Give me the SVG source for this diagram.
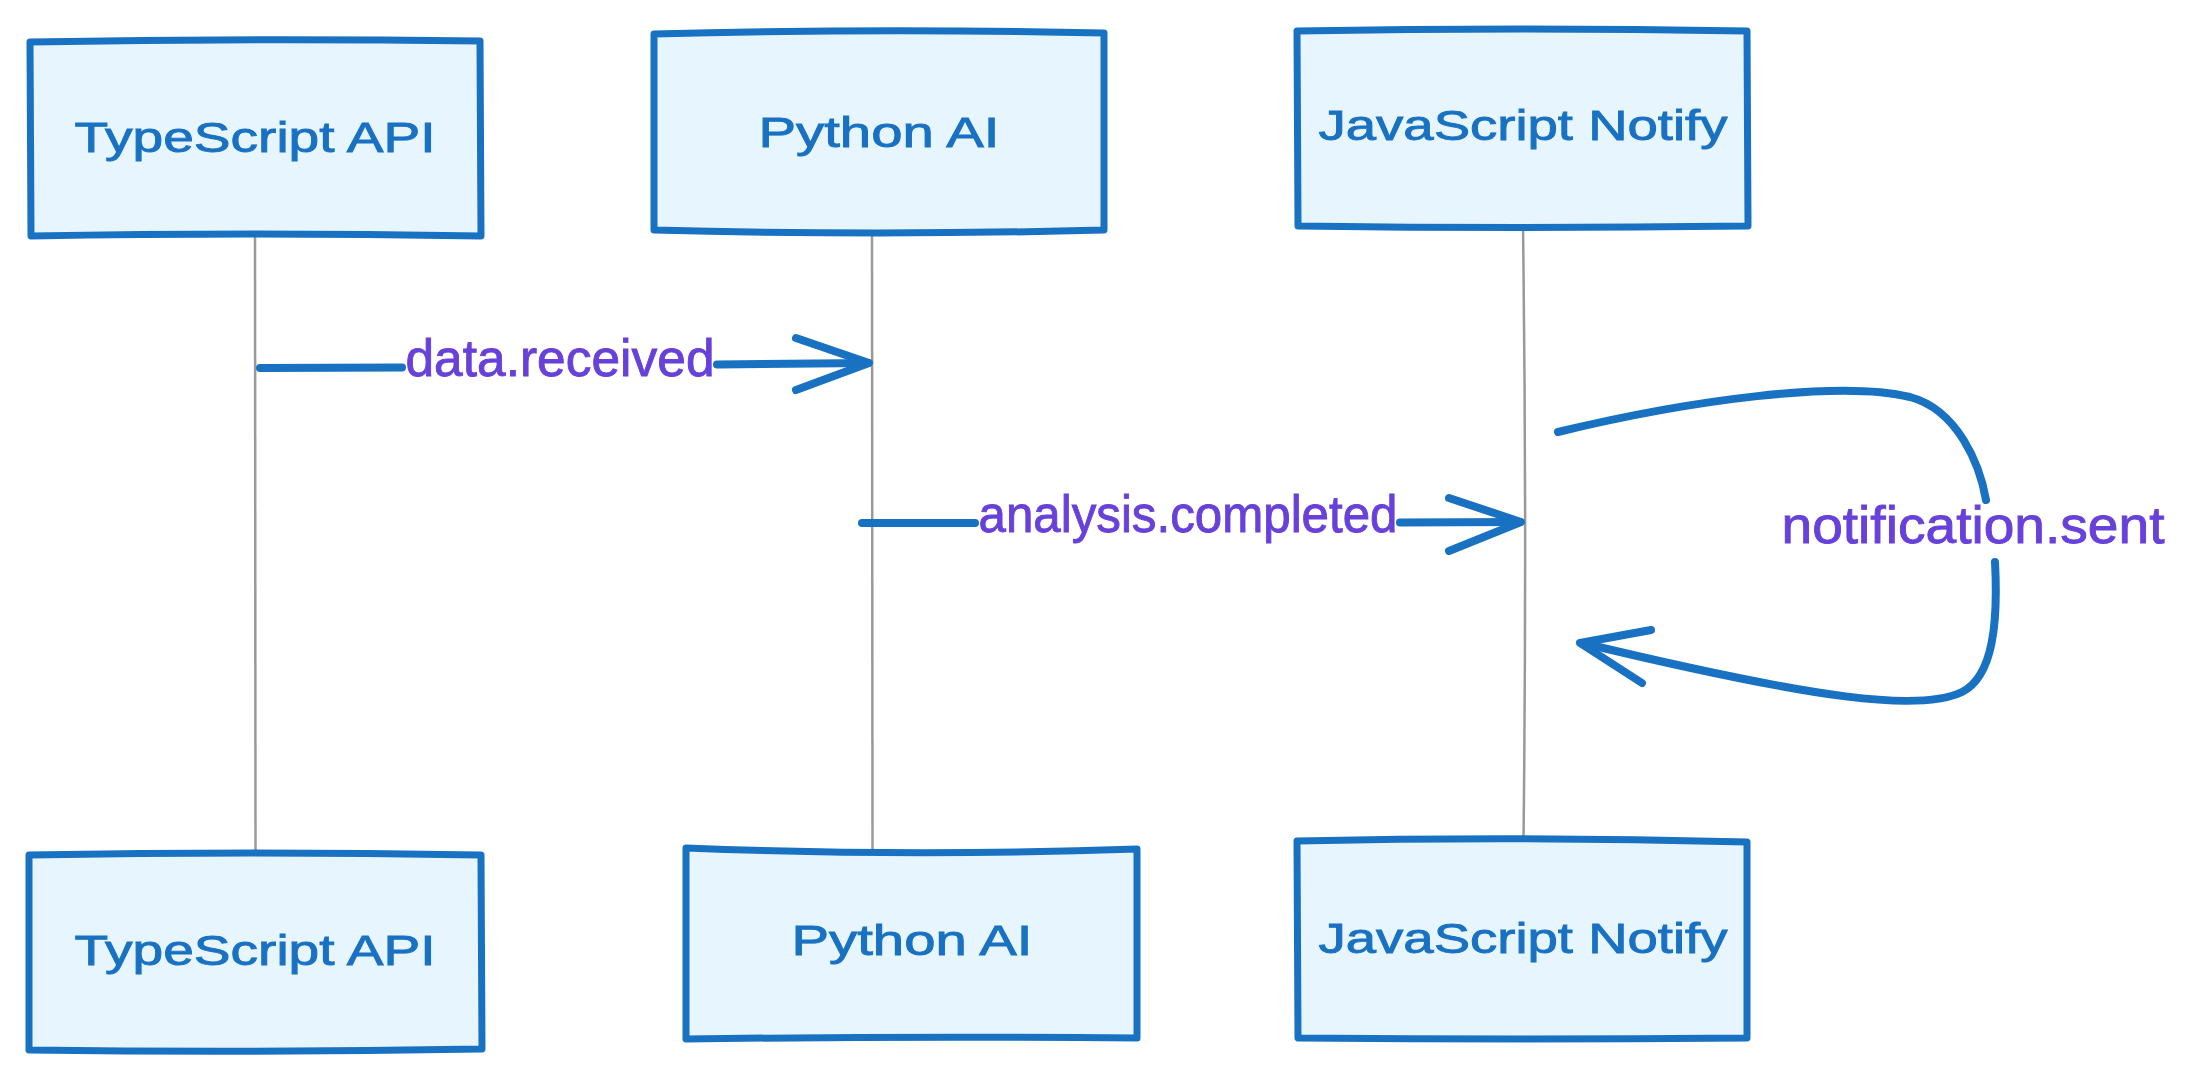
<svg xmlns="http://www.w3.org/2000/svg" width="2198" height="1079" viewBox="0 0 2198 1079">
  <style>
    .box { fill: #e7f5ff; stroke: #1971c2; stroke-width: 7; stroke-linejoin: round; }
    .blabel { font-family: "Liberation Sans", "Noto Sans", sans-serif; font-size: 43px; fill: #1971c2; stroke: #1971c2; stroke-width: 0.9; text-anchor: middle; }
    .mlabel { font-family: "Liberation Sans", "Noto Sans", sans-serif; font-size: 52px; fill: #6741d9; stroke: #6741d9; stroke-width: 0.9; text-anchor: middle; }
    .life { stroke: #999999; stroke-width: 2.5; fill: none; }
    .msg { stroke: #1971c2; stroke-width: 8; fill: none; stroke-linecap: round; stroke-linejoin: round; }
  </style>
  <rect width="2198" height="1079" fill="#ffffff"/>

  <g id="lifelines">
    <path class="life" d="M255,236 L255.5,855"/>
    <path class="life" d="M872,233 L872.5,850"/>
    <path class="life" d="M1523,226 Q1527,530 1523.5,841"/>
  </g>

  <g id="ts-top">
    <path class="box" d="M30,42 Q250,38 480,41 L481,236 Q250,232 31,236 Z"/>
    <text class="blabel" x="255" y="152" textLength="361" lengthAdjust="spacingAndGlyphs">TypeScript API</text>
  </g>
  <g id="py-top">
    <path class="box" d="M654,34 Q880,28 1104,33 L1104,230 Q880,236 654,230 Z"/>
    <text class="blabel" x="879" y="147" textLength="241" lengthAdjust="spacingAndGlyphs">Python AI</text>
  </g>
  <g id="js-top">
    <path class="box" d="M1297,31 Q1520,27 1747,31 L1748,226 Q1520,229 1298,226 Z"/>
    <text class="blabel" x="1523" y="140" textLength="409" lengthAdjust="spacingAndGlyphs">JavaScript Notify</text>
  </g>

  <g id="ts-bottom">
    <path class="box" d="M29,855 Q250,851 481,855 L482,1049 Q250,1053 29,1050 Z"/>
    <text class="blabel" x="255" y="965" textLength="361" lengthAdjust="spacingAndGlyphs">TypeScript API</text>
  </g>
  <g id="py-bottom">
    <path class="box" d="M686,848 Q910,857 1137,849 L1137,1038 Q910,1036 686,1039 Z"/>
    <text class="blabel" x="912" y="955" textLength="241" lengthAdjust="spacingAndGlyphs">Python AI</text>
  </g>
  <g id="js-bottom">
    <path class="box" d="M1297,841 Q1520,836 1747,842 L1747,1038 Q1520,1040 1298,1038 Z"/>
    <text class="blabel" x="1523" y="953" textLength="409" lengthAdjust="spacingAndGlyphs">JavaScript Notify</text>
  </g>

  <g id="connectors">
    <path class="msg" d="M260,368 L402,367.5"/>
    <path class="msg" d="M717,364.5 L868,363"/>
    <path class="msg" d="M796,338 L869,363 L796,390"/>

    <path class="msg" stroke-width="7" d="M862,523 L975,523"/>
    <path class="msg" d="M1400,522.5 L1520,522"/>
    <path class="msg" d="M1449,498 L1521,522 L1449,551"/>

    <path class="msg" d="M1558,432 C1690,400 1840,380 1910,397 C1958,410 1980,465 1986,500"/>
    <path class="msg" stroke-width="6.5" d="M1995,562 C1998,620 1994,676 1962,692 C1920,712 1820,700 1582,643"/>
    <path class="msg" stroke-width="6.5" d="M1651,630 L1580,643 L1642,683"/>
  </g>

  <g id="labels">
    <text class="mlabel" x="560" y="376" textLength="309" lengthAdjust="spacingAndGlyphs">data.received</text>
    <text class="mlabel" x="1188" y="532" textLength="419" lengthAdjust="spacingAndGlyphs">analysis.completed</text>
    <text class="mlabel" x="1973" y="543" textLength="383" lengthAdjust="spacingAndGlyphs">notification.sent</text>
  </g>
</svg>
